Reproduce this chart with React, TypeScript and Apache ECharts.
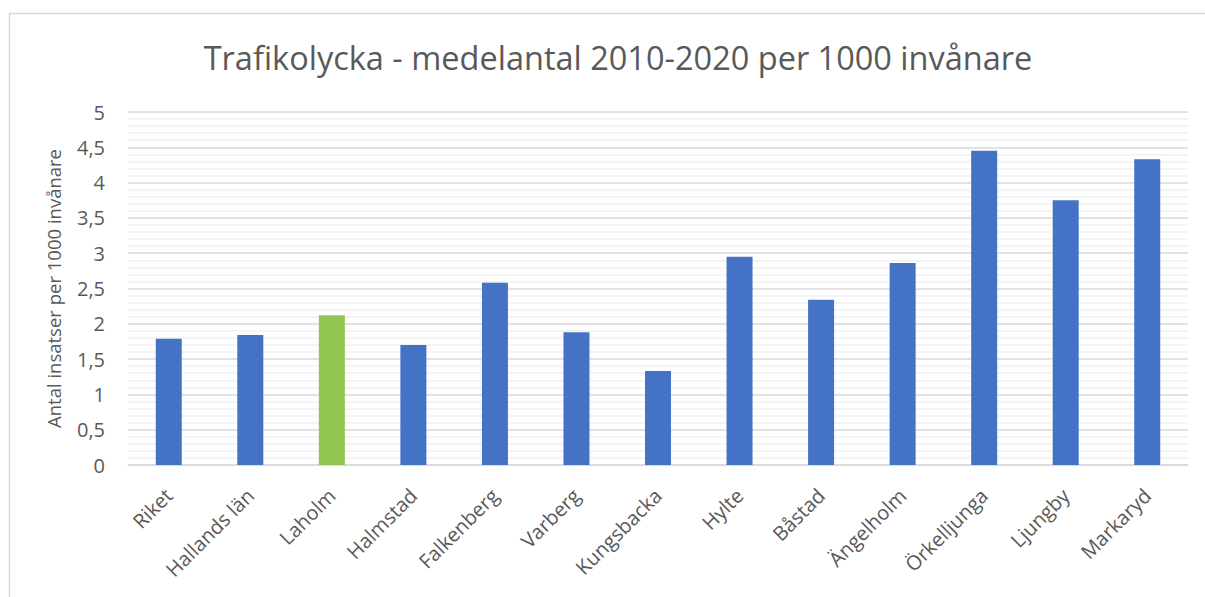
import React, { useEffect, useRef } from "react";
import * as echarts from "echarts";

const categories = [
  "Riket",
  "Hallands län",
  "Laholm",
  "Halmstad",
  "Falkenberg",
  "Varberg",
  "Kungsbacka",
  "Hylte",
  "Båstad",
  "Ängelholm",
  "Örkelljunga",
  "Ljungby",
  "Markaryd",
];
const values = [1.79, 1.84, 2.12, 1.7, 2.58, 1.88, 1.33, 2.95, 2.34, 2.86, 4.45, 3.75, 4.33];
const highlight = "Laholm";
const titleText = "Trafikolycka - medelantal 2010-2020 per 1000 invånare";
const yName = "Antal insatser per 1000 invånare";

export default function App() {
  const ref = useRef<HTMLDivElement>(null);
  useEffect(() => {
    if (!ref.current) return;
    const chart = echarts.init(ref.current, null, { renderer: "svg" });
    const font = "Open Sans, sans-serif";
    chart.setOption({
      animation: false,
      backgroundColor: "#ffffff",
      title: {
        text: titleText,
        left: 613,
        textAlign: "center",
        top: 36,
        textStyle: { fontFamily: font, fontSize: 32.5, fontWeight: "normal", color: "#595959" },
      },
      graphic: [
        {
          type: "rect",
          shape: { x: 9.5, y: 13.5, width: 1210, height: 600 },
          style: { fill: "none", stroke: "#d9d9d9", lineWidth: 1.5 },
          silent: true,
        },
      ],
      grid: { left: 128, right: 17, top: 112, bottom: 132 },
      xAxis: {
        type: "category",
        data: categories,
        axisTick: { show: false },
        axisLine: { lineStyle: { color: "#d9d9d9", width: 1.5 } },
        axisLabel: {
          rotate: 45,
          interval: 0,
          margin: 27,
          fontFamily: font,
          fontSize: 20,
          color: "#595959",
        },
      },
      yAxis: {
        type: "value",
        min: 0,
        max: 5,
        interval: 0.5,
        name: yName,
        nameLocation: "middle",
        nameGap: 65,
        nameTextStyle: { fontFamily: font, fontSize: 18.5, color: "#595959" },
        axisLabel: {
          fontFamily: font,
          fontSize: 20,
          color: "#595959",
          margin: 23,
          formatter: (v: number) => String(v).replace(".", ","),
        },
        splitLine: { lineStyle: { color: "#d9d9d9", width: 1.5 } },
        minorTick: { show: false, splitNumber: 5 },
        minorSplitLine: { show: true, lineStyle: { color: "#f0f0f0", width: 1.5 } },
      },
      series: [
        {
          type: "bar",
          barWidth: 26,
          data: categories.map((c, i) => ({
            value: values[i],
            itemStyle: { color: c === highlight ? "#92C550" : "#4472C4" },
          })),
        },
      ],
    });
    return () => chart.dispose();
  }, []);
  return (
    <div
      ref={ref}
      style={{ position: "fixed", left: 0, top: 0, width: 1205, height: 597 }}
    />
  );
}
